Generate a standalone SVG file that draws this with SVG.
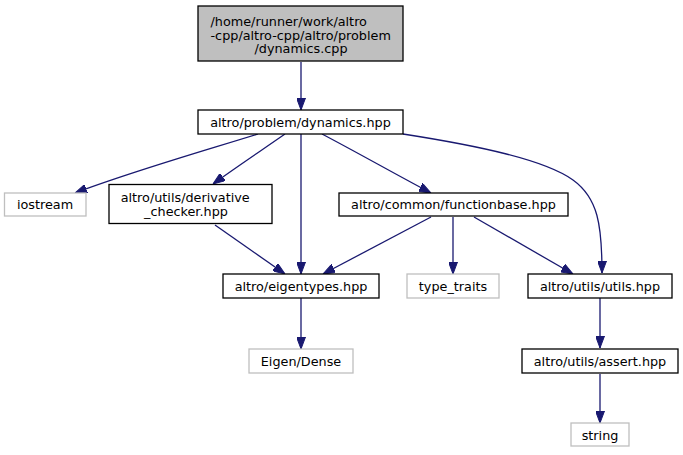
<svg xmlns="http://www.w3.org/2000/svg" width="683" height="455" viewBox="0 0 683 455">
<style>
.n rect{fill:#fff;stroke:#000;stroke-width:1.3}
.main rect{fill:#bfbfbf;stroke:#000;stroke-width:1.3}
.ext rect{fill:#fff;stroke:#bfbfbf;stroke-width:1.3}
text{font-family:"DejaVu Sans",sans-serif;font-size:12.8px;fill:#000}
.c{text-anchor:middle}
#edges path{fill:none;stroke:#191970;stroke-width:1.3;marker-end:url(#ah)}
</style>
<defs>
<marker id="ah" viewBox="0 0 12 9" refX="12" refY="4.5" markerWidth="12" markerHeight="9" markerUnits="userSpaceOnUse" orient="auto">
<path d="M0,0 L12,4.5 L0,9 z" fill="#191970" stroke="#191970" stroke-width="1"/>
</marker>
</defs>
<rect width="683" height="455" fill="#fff"/>
<g id="edges">
<path d="M301,62 L301,110"/>
<path d="M258,134 C200,152 130,172 75,193"/>
<path d="M285,134 C262,150 235,168 213,184"/>
<path d="M301,134 L301,274"/>
<path d="M322,134 C360,154 395,174 431,193"/>
<path d="M403,134 C480,146 545,160 573,180 C598,198 602,225 602,273"/>
<path d="M215,225 C238,241 262,258 285,274"/>
<path d="M431,217 C395,236 359,255 323,274"/>
<path d="M453,217 L453,274"/>
<path d="M474,217 C507,236 540,255 573,274"/>
<path d="M301,298 L301,349"/>
<path d="M600,298 L600,348"/>
<path d="M600,374 L600,423"/>
</g>
<g id="n_main" class="main">
<rect x="198" y="6" width="205" height="55"/>
<text x="210.5" y="26">/home/runner/work/altro</text>
<text x="210.5" y="39.5">-cpp/altro-cpp/altro/problem</text>
<text x="301" y="53" class="c">/dynamics.cpp</text>
</g>
<g id="n_dynamics" class="n">
<rect x="198" y="110" width="205" height="24"/>
<text x="300.5" y="126.5" class="c">altro/problem/dynamics.hpp</text>
</g>
<g id="n_iostream" class="ext">
<rect x="4.5" y="193" width="81.5" height="23"/>
<text x="45" y="209" class="c">iostream</text>
</g>
<g id="n_derivative" class="n">
<rect x="109" y="184.5" width="163" height="39"/>
<text x="120.7" y="201.5">altro/utils/derivative</text>
<text x="186" y="215.5" class="c">_checker.hpp</text>
</g>
<g id="n_functionbase" class="n">
<rect x="339" y="193" width="229" height="23"/>
<text x="453.5" y="209" class="c">altro/common/functionbase.hpp</text>
</g>
<g id="n_eigentypes" class="n">
<rect x="223" y="274" width="156" height="24"/>
<text x="301" y="290.5" class="c">altro/eigentypes.hpp</text>
</g>
<g id="n_type_traits" class="ext">
<rect x="407" y="274" width="92" height="24"/>
<text x="453" y="290.5" class="c">type_traits</text>
</g>
<g id="n_utils" class="n">
<rect x="528" y="274" width="144" height="24"/>
<text x="600" y="290.5" class="c">altro/utils/utils.hpp</text>
</g>
<g id="n_eigen_dense" class="ext">
<rect x="249" y="349" width="104" height="24"/>
<text x="301" y="365.5" class="c">Eigen/Dense</text>
</g>
<g id="n_assert" class="n">
<rect x="522" y="349" width="156" height="24"/>
<text x="600" y="365.5" class="c">altro/utils/assert.hpp</text>
</g>
<g id="n_string" class="ext">
<rect x="571" y="423" width="58" height="23"/>
<text x="600" y="439.5" class="c">string</text>
</g>
</svg>
